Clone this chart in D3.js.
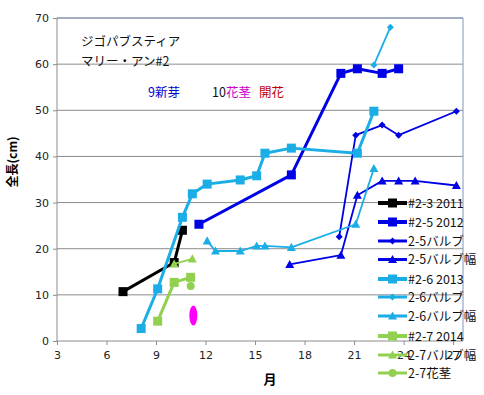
<!DOCTYPE html>
<html><head><meta charset="utf-8">
<script src="https://cdn.jsdelivr.net/npm/d3@7"></script>
<style>body{margin:0;background:#fff}svg{display:block}</style>
</head><body>
<svg id="c" width="484" height="395"></svg>
<script>
// ---- data ----
const xTicks = [3, 6, 9, 12, 15, 18, 21, 24, 27];
const yTicks = [0, 10, 20, 30, 40, 50, 60, 70];
const s23_2011 = [[7.0,10.7],[10.1,17.0],[10.6,24.0]];
const s25_2012 = [[11.6,25.3],[17.2,36.0],[20.2,58.0],[21.2,59.0],[22.7,58.0],[23.7,59.0]];
const s25_bulb = [[20.1,22.6],[21.1,44.6],[22.7,46.8],[23.7,44.6],[27.2,49.8]];
const s25_bulbW = [[17.1,16.6],[20.2,18.6],[21.2,31.6],[22.7,34.7],[23.7,34.7],[24.7,34.7],[27.2,33.7]];
const s26_2013 = [[8.1,2.7],[9.1,11.3],[10.6,26.8],[11.2,31.9],[12.1,34.0],[14.1,34.9],[15.1,35.8],[15.6,40.7],[17.2,41.8],[21.2,40.7],[22.2,49.8]];
const s26_bulb = [[22.2,59.8],[23.2,68.0]];
const s26_bulbW = [[12.1,21.7],[12.6,19.5],[14.1,19.5],[15.1,20.6],[15.6,20.6],[17.2,20.3],[21.1,25.3],[22.2,37.4]];
const s27_2014 = [[9.1,4.3],[10.1,12.7],[11.1,13.8]];
const s27_bulbW = [[10.1,16.7],[11.2,17.8]];
const s27_stalk = [[11.1,11.9]];
const seriesNames = ["#2-3 2011","#2-5 2012","2-5バルブ","2-5バルブ幅","#2-6 2013","2-6バルブ","2-6バルブ幅","#2-7 2014","2-7バルブ幅","2-7花茎"];
const flowerMark = [11.26, 5.5];

const DB = "#0000E6", LB = "#1AADE6", GR = "#92D050";
const series = [
  {name: seriesNames[0], data: s23_2011, color: "#000", w: 3, m: "square", ms: 9},
  {name: seriesNames[1], data: s25_2012, color: DB, w: 3, m: "square", ms: 9},
  {name: seriesNames[2], data: s25_bulb, color: DB, w: 1.8, m: "diamond", ms: 7},
  {name: seriesNames[3], data: s25_bulbW, color: DB, w: 1.8, m: "triangle", ms: 9},
  {name: seriesNames[4], data: s26_2013, color: LB, w: 3, m: "square", ms: 9},
  {name: seriesNames[5], data: s26_bulb, color: LB, w: 1.8, m: "diamond", ms: 7},
  {name: seriesNames[6], data: s26_bulbW, color: LB, w: 1.8, m: "triangle", ms: 9},
  {name: seriesNames[7], data: s27_2014, color: GR, w: 3, m: "square", ms: 9},
  {name: seriesNames[8], data: s27_bulbW, color: GR, w: 1.8, m: "triangle", ms: 9},
  {name: seriesNames[9], data: s27_stalk, color: GR, w: 1.8, m: "circle", ms: 8}
];

const svg = d3.select("#c");
const L = 57, R = 463, T = 18, B = 341;
const x = d3.scaleLinear().domain([3, 27.6]).range([L, R]);
const y = d3.scaleLinear().domain([0, 70]).range([B, T]);

// gridlines
svg.append("g").selectAll("line").data(yTicks.filter(d => d > 0)).join("line")
  .attr("x1", L).attr("x2", R).attr("y1", d => y(d)).attr("y2", d => y(d))
  .attr("stroke", "#8c8c8c").attr("stroke-width", 1);
// border top/right
svg.append("path").attr("d", `M${L},${T}H${R}V${B}`).attr("fill", "none").attr("stroke", "#7f98bd").attr("stroke-width", 1);

// axes
const yAxis = svg.append("g").attr("transform", `translate(${L},0)`)
  .call(d3.axisLeft(y).tickValues(yTicks).tickSize(4).tickPadding(4));
const xAxis = svg.append("g").attr("transform", `translate(0,${B})`)
  .call(d3.axisBottom(x).tickValues(xTicks).tickSize(4).tickPadding(6));
[yAxis, xAxis].forEach(a => {
  a.select(".domain").attr("stroke", "#8c8c8c");
  a.selectAll(".tick line").attr("stroke", "#8c8c8c");
  a.selectAll("text").attr("font-family", "DejaVu Sans, Verdana, sans-serif").attr("font-size", 11).attr("fill", "#222");
});
xAxis.select(".domain").attr("d", `M${L},0H${R}`);
yAxis.select(".domain").attr("d", `M0,${B}V${T}`);

// axis titles
svg.append("text").attr("x", 270).attr("y", 384).attr("text-anchor", "middle")
  .attr("font-family", "Noto Sans CJK JP").attr("font-weight", "bold").attr("font-size", 13).text("月");
svg.append("text").attr("transform", "translate(17,162) rotate(-90)").attr("text-anchor", "middle")
  .attr("font-family", "Noto Sans CJK JP").attr("font-weight", "bold").attr("font-size", 12).text("全長(cm)");

function marker(g, type, cx, cy, size, color) {
  if (type === "square") {
    g.append("rect").attr("x", cx - size/2).attr("y", cy - size/2).attr("width", size).attr("height", size).attr("fill", color);
  } else if (type === "diamond") {
    const s = size/2;
    g.append("path").attr("d", `M${cx},${cy-s}L${cx+s},${cy}L${cx},${cy+s}L${cx-s},${cy}Z`).attr("fill", color);
  } else if (type === "triangle") {
    const s = size/2;
    g.append("path").attr("d", `M${cx},${cy-s}L${cx+s},${cy+s*0.8}L${cx-s},${cy+s*0.8}Z`).attr("fill", color);
  } else {
    g.append("circle").attr("cx", cx).attr("cy", cy).attr("r", size/2).attr("fill", color);
  }
}

const line = d3.line().x(d => x(d[0])).y(d => y(d[1]));
series.forEach(s => {
  const g = svg.append("g");
  if (s.data.length > 1)
    g.append("path").attr("d", line(s.data)).attr("fill", "none").attr("stroke", s.color)
      .attr("stroke-width", s.w).attr("stroke-linejoin", "round");
  s.data.forEach(d => marker(g, s.m, x(d[0]), y(d[1]), s.ms, s.color));
});

// flower mark ellipse
svg.append("ellipse").attr("cx", x(flowerMark[0])).attr("cy", y(flowerMark[1]))
  .attr("rx", 4).attr("ry", 10).attr("fill", "#FF00FF");

// annotations
const jp = "Noto Sans CJK JP";
svg.append("text").attr("x", 81).attr("y", 46).attr("font-family", jp).attr("font-size", 12.5).attr("fill", "#111").text("ジゴパブスティア");
svg.append("text").attr("x", 81).attr("y", 66).attr("font-family", jp).attr("font-size", 12.5).attr("fill", "#111").text("マリー・アン#2");
svg.append("text").attr("x", 148).attr("y", 97).attr("font-family", jp).attr("font-size", 12.5).attr("fill", "#0000CC").text("9新芽");
const t2 = svg.append("text").attr("x", 212).attr("y", 97).attr("font-family", jp).attr("font-size", 12.5);
t2.append("tspan").attr("fill", "#111").text("10");
t2.append("tspan").attr("fill", "#CC00CC").text("花茎");
t2.append("tspan").attr("fill", "#C00000").attr("dx", 8).text("開花");

// legend
const lg = svg.append("g");
const legY = [203, 222, 241, 259.5, 279, 297, 316, 336, 355, 373];
series.forEach((s, i) => {
  const yy = legY[i];
  lg.append("line").attr("x1", 378).attr("x2", 407).attr("y1", yy).attr("y2", yy).attr("stroke", s.color).attr("stroke-width", s.w === 3 ? 4 : 3);
  marker(lg, s.m, 392.5, yy, s.ms, s.color);
  lg.append("text").attr("x", 408).attr("y", yy + 4.5).attr("font-family", jp).attr("font-size", 12.5).attr("fill", "#111").text(s.name);
});
</script>
</body></html>
